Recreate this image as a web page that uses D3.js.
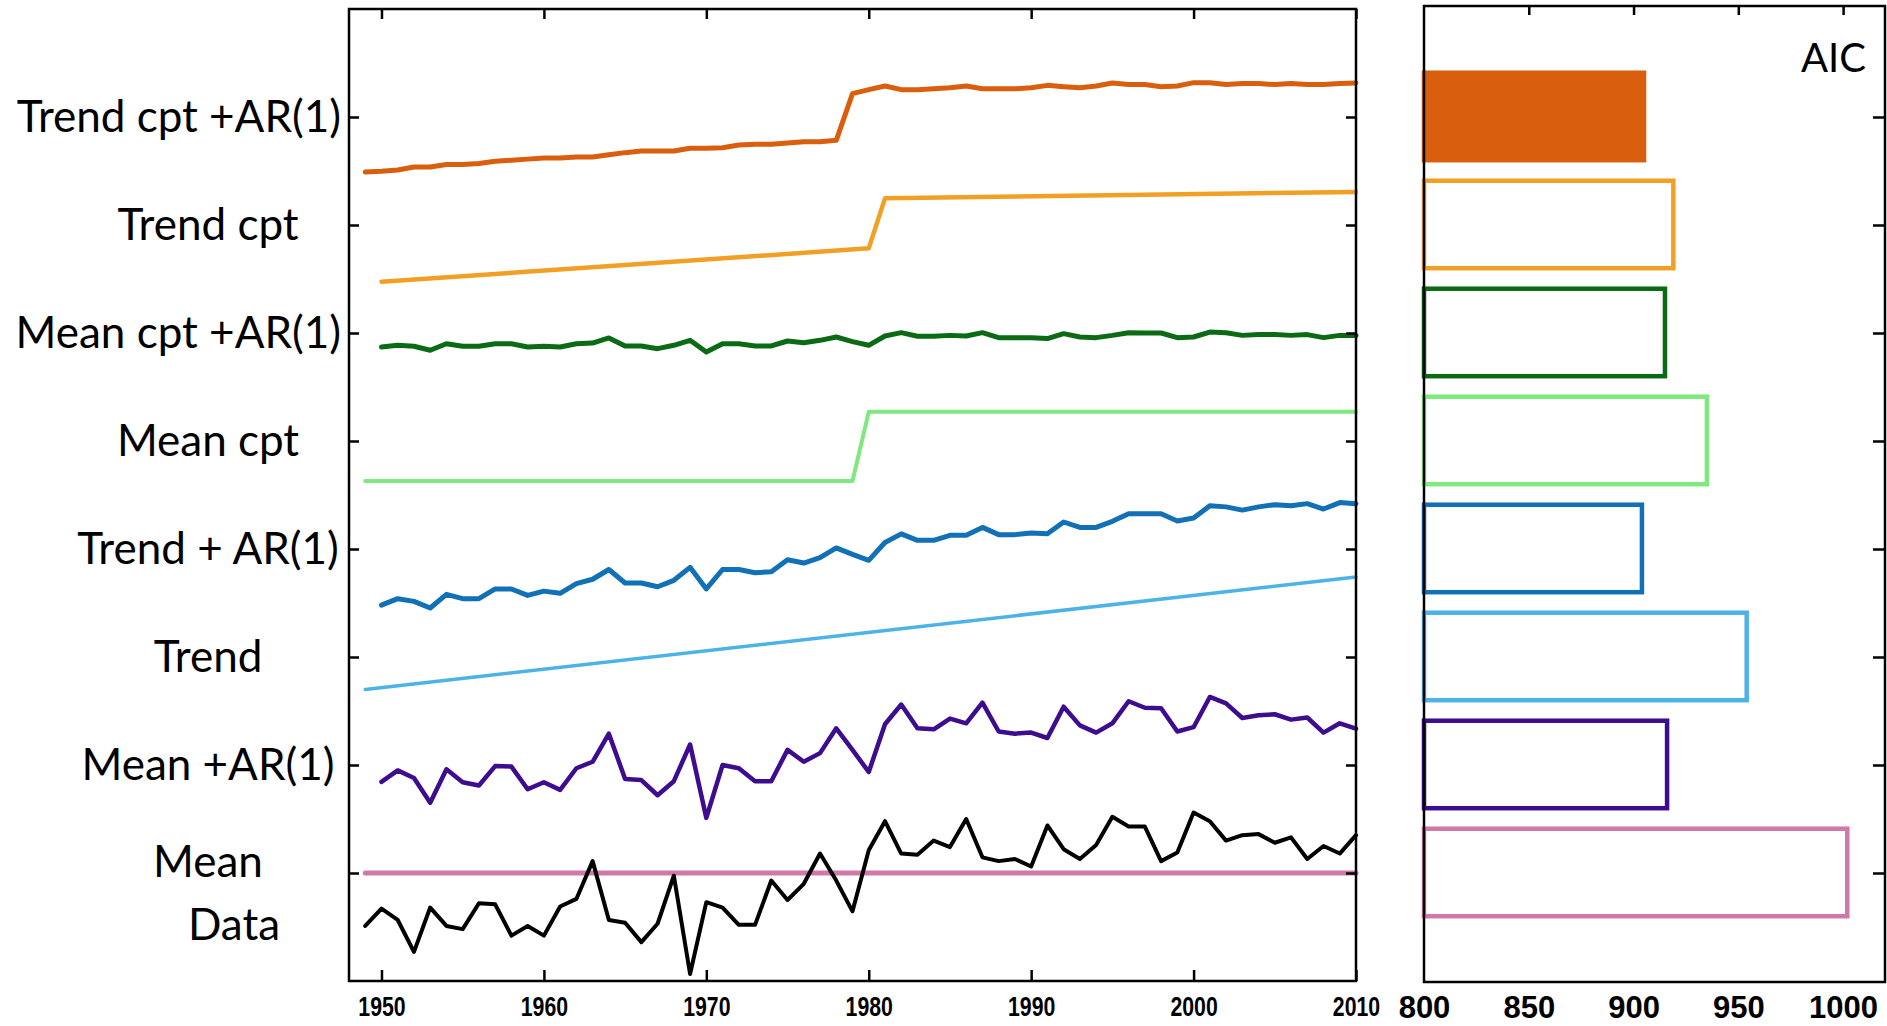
<!DOCTYPE html>
<html>
<head>
<meta charset="utf-8">
<script src="https://cdn.jsdelivr.net/npm/d3@7"></script>
<style>
  body { margin: 0; background: #fff; }
  svg { display: block; }
</style>
</head>
<body>
<div id="chart"></div>
<script>
// #region Data

// model names, top to bottom, with their AIC score and colour
const models = ["Trend cpt +AR(1)", "Trend cpt", "Mean cpt +AR(1)", "Mean cpt",
                "Trend + AR(1)", "Trend", "Mean +AR(1)", "Mean"];
const aic = [905, 919, 915, 935, 904, 954, 916, 1002];
const colors = ["#d95f0e", "#f2a024", "#0b6b14", "#7fe87f",
                "#1170b6", "#4db3e6", "#3d0c8f", "#d078a8"];

const xTicks = [1950, 1960, 1970, 1980, 1990, 2000, 2010];
const aicTicks = [800, 850, 900, 950, 1000];

const dataStart = 1949;
const dataVals = [
  -0.49,                                                              // 1949
  -0.33, -0.435, -0.73, -0.32, -0.49, -0.52, -0.28, -0.29, -0.58, -0.49, // 1950s
  -0.58, -0.31, -0.24, 0.11, -0.435, -0.46, -0.64, -0.47, -0.025, -0.935, // 1960s
  -0.27, -0.32, -0.48, -0.48, -0.07, -0.25, -0.10, 0.18, -0.07, -0.355,   // 1970s
  0.21, 0.48, 0.18, 0.17, 0.30, 0.24, 0.50, 0.145, 0.11, 0.13,            // 1980s
  0.06, 0.44, 0.22, 0.13, 0.26, 0.52, 0.43, 0.43, 0.11, 0.19,             // 1990s
  0.56, 0.48, 0.30, 0.35, 0.36, 0.28, 0.33, 0.13, 0.25, 0.18,             // 2000s
  0.35                                                                    // 2010
];

// Trend cpt +AR(1), 1949-2010
const trendCptArStart = 1949;
const trendCptAr = [
  -0.51,
  -0.503, -0.49, -0.463, -0.463, -0.44, -0.44, -0.43, -0.41, -0.40, -0.39,
  -0.38, -0.38, -0.37, -0.37, -0.35, -0.33, -0.315, -0.315, -0.315, -0.29,
  -0.29, -0.284, -0.26, -0.253, -0.253, -0.24, -0.23, -0.23, -0.216, 0.216,
  0.253, 0.287, 0.253, 0.253, 0.262, 0.27, 0.287, 0.262, 0.262, 0.262,
  0.27, 0.293, 0.28, 0.27, 0.287, 0.315, 0.30, 0.30, 0.28, 0.287,
  0.318, 0.318, 0.30, 0.31, 0.31, 0.30, 0.31, 0.30, 0.30, 0.31,
  0.315
];

// Trend cpt: two straight pieces
const trendCpt = [[1950, -0.525], [1980, -0.216], [1981, 0.247], [2010, 0.306]];

// Mean cpt +AR(1), 1950-2010
const meanCptArStart = 1950;
const meanCptAr = [
  -0.13, -0.114, -0.123, -0.16, -0.10, -0.123, -0.123, -0.10, -0.10, -0.13,
  -0.123, -0.13, -0.10, -0.093, -0.046, -0.12, -0.12, -0.145, -0.114, -0.068,
  -0.176, -0.10, -0.10, -0.12, -0.12, -0.074, -0.09, -0.068, -0.037, -0.08,
  -0.114, -0.028, 0.003, -0.03, -0.03, -0.022, -0.028, 0.003, -0.043, -0.043,
  -0.043, -0.052, -0.006, -0.037, -0.043, -0.022, 0.003, 0.0, 0.0, -0.043,
  -0.037, 0.009, 0.003, -0.022, -0.015, -0.015, -0.022, -0.015, -0.043, -0.022,
  -0.022
];

// Mean cpt: step
const meanCpt = [[1949, -0.37], [1979, -0.37], [1980, 0.27], [2010, 0.27]];

// Trend + AR(1), 1950-2010
const trendArStart = 1950;
const trendAr = [
  -0.52, -0.46, -0.485, -0.546, -0.42, -0.46, -0.46, -0.37, -0.37, -0.43,
  -0.39, -0.41, -0.32, -0.28, -0.19, -0.315, -0.315, -0.35, -0.29, -0.17,
  -0.37, -0.19, -0.19, -0.22, -0.21, -0.10, -0.13, -0.08, 0.01, -0.05,
  -0.105, 0.06, 0.14, 0.08, 0.08, 0.127, 0.127, 0.20, 0.133, 0.133,
  0.148, 0.142, 0.25, 0.20, 0.20, 0.256, 0.327, 0.327, 0.327, 0.26,
  0.287, 0.40, 0.39, 0.36, 0.39, 0.41, 0.40, 0.42, 0.37, 0.43,
  0.42
];

// Trend: one straight line
const trend = [[1949, -0.30], [2010, 0.74]];

// Mean +AR(1), 1950-2010
const meanArStart = 1950;
const meanAr = [
  -0.157, -0.05, -0.12, -0.35, -0.04, -0.16, -0.19, -0.01, -0.015, -0.225,
  -0.16, -0.23, -0.03, 0.03, 0.29, -0.13, -0.14, -0.28, -0.15, 0.19,
  -0.49, 0.0, -0.03, -0.15, -0.15, 0.14, 0.03, 0.11, 0.34, 0.14,
  -0.065, 0.377, 0.56, 0.34, 0.33, 0.43, 0.386, 0.577, 0.31, 0.29,
  0.30, 0.25, 0.54, 0.367, 0.30, 0.386, 0.59, 0.53, 0.525, 0.31,
  0.35, 0.63, 0.57, 0.435, 0.46, 0.47, 0.42, 0.44, 0.30, 0.386,
  0.336
];

// Mean: flat line
const mean = [[1949, 0], [2010, 0]];

//#endregion

// yearly list -> [year, value] pairs
function pairs(start, vals) {
    return vals.map((v, i) => [start + i, v]);
}

const series = [
    pairs(trendCptArStart, trendCptAr),
    trendCpt,
    pairs(meanCptArStart, meanCptAr),
    meanCpt,
    pairs(trendArStart, trendAr),
    trend,
    pairs(meanArStart, meanAr),
    mean
];
const widths = [5, 4.5, 5, 4, 5, 3.5, 4.5, 5];

// Dimensions
const W = 1887, H = 1026;
const left = {x0: 349, x1: 1356, y0: 9, y1: 981};
const right = {x0: 1424, x1: 1885, y0: 6, y1: 982};

const svg = d3.select("#chart")
    .append("svg")
    .attr("width", W)
    .attr("height", H);

// scales
const x = d3.scaleLinear().domain([1948, 2010]).range([left.x0, left.x1]);
const y = d3.scaleLinear().domain([-1, 8]).range([left.y1, left.y0]);
const xa = d3.scaleLinear().domain([800, 1020]).range([right.x0, right.x1]);

const band = i => models.length - 1 - i;   // top model sits on the highest tick
const bandTicks = d3.range(models.length);

// #region Left panel

const line = d3.line()
    .x(d => x(d[0]))
    .y(d => y(d[1]));

const lines = svg.append("g")
    .attr("fill", "none")
    .attr("stroke-linejoin", "round")
    .attr("stroke-linecap", "round");

series.forEach((s, i) => {
    lines.append("path")
        .attr("d", line(s.map(d => [d[0], band(i) + d[1]])))
        .attr("stroke", colors[i])
        .attr("stroke-width", widths[i]);
});

// data on top of the "Mean" band
lines.append("path")
    .attr("d", line(pairs(dataStart, dataVals)))
    .attr("stroke", "#000")
    .attr("stroke-width", 4);

// axes (ticks inward, frame drawn separately)
const tickFont = g => g.selectAll("text")
    .attr("font-family", "'Liberation Sans', Arial, sans-serif")
    .attr("font-weight", "bold")
    .attr("fill", "#000");

svg.append("g")
    .attr("transform", `translate(0,${left.y1})`)
    .call(d3.axisBottom(x).tickValues(xTicks).tickFormat(d3.format("d"))
        .tickSizeInner(-11).tickSizeOuter(0).tickPadding(15))
    .call(g => g.select(".domain").remove())
    .call(g => g.selectAll("line").attr("stroke", "#000").attr("stroke-width", 2.5))
    .call(tickFont)
    .call(g => g.selectAll("text")
        .attr("font-size", 28)
        .attr("transform", "scale(0.76,1)"));

svg.append("g")
    .attr("transform", `translate(0,${left.y0})`)
    .call(d3.axisTop(x).tickValues(xTicks).tickFormat("")
        .tickSizeInner(-10).tickSizeOuter(0))
    .call(g => g.select(".domain").remove())
    .call(g => g.selectAll("line").attr("stroke", "#000").attr("stroke-width", 2.5));

svg.append("g")
    .attr("transform", `translate(${left.x0},0)`)
    .call(d3.axisLeft(y).tickValues(bandTicks).tickFormat("")
        .tickSizeInner(-10).tickSizeOuter(0))
    .call(g => g.select(".domain").remove())
    .call(g => g.selectAll("line").attr("stroke", "#000").attr("stroke-width", 2.5));

svg.append("g")
    .attr("transform", `translate(${left.x1},0)`)
    .call(d3.axisRight(y).tickValues(bandTicks).tickFormat("")
        .tickSizeInner(-10).tickSizeOuter(0))
    .call(g => g.select(".domain").remove())
    .call(g => g.selectAll("line").attr("stroke", "#000").attr("stroke-width", 2.5));

svg.append("rect")
    .attr("x", left.x0).attr("y", left.y0)
    .attr("width", left.x1 - left.x0).attr("height", left.y1 - left.y0)
    .attr("fill", "none")
    .attr("stroke", "#000")
    .attr("stroke-width", 2.5);

// model labels
const labels = svg.append("g")
    .attr("font-family", "Lato, 'Open Sans', sans-serif")
    .attr("font-size", 44)
    .attr("fill", "#000")
    .attr("text-anchor", "middle");

const labelCx = 208;
models.forEach((m, i) => {
    const t = labels.append("text")
        .attr("x", labelCx)
        .attr("y", y(band(i)) + (m === "Mean" ? -11 : 0))
        .attr("dy", "0.35em")
        .text(m);
    // keep long labels clear of the frame
    const w = t.node().getComputedTextLength();
    if (labelCx + w / 2 > left.x0 - 8) t.attr("x", left.x0 - 8 - w / 2);
});
labels.append("text")
    .attr("x", labelCx + 26)
    .attr("y", y(0) + 52)
    .attr("dy", "0.35em")
    .text("Data");

//#endregion

// #region Right panel (AIC)

svg.append("g")
    .selectAll("rect")
    .data(aic)
    .join("rect")
    .attr("x", xa(800))
    .attr("y", (d, i) => y(band(i) + 0.41))
    .attr("width", d => xa(d) - xa(800))
    .attr("height", (d, i) => y(band(i) - 0.40) - y(band(i) + 0.41))
    .attr("fill", (d, i) => i === 0 ? colors[0] : "none")
    .attr("stroke", (d, i) => colors[i])
    .attr("stroke-width", 4.5);

svg.append("g")
    .attr("transform", `translate(0,${right.y1})`)
    .call(d3.axisBottom(xa).tickValues(aicTicks).tickFormat(d3.format("d"))
        .tickSize(0).tickPadding(14))
    .call(g => g.select(".domain").remove())
    .call(tickFont)
    .call(g => g.selectAll("text").attr("font-size", 31));

svg.append("g")
    .attr("transform", `translate(0,${right.y0})`)
    .call(d3.axisTop(xa).tickValues(aicTicks.slice(1)).tickFormat("")
        .tickSizeInner(-9).tickSizeOuter(0))
    .call(g => g.select(".domain").remove())
    .call(g => g.selectAll("line").attr("stroke", "#000").attr("stroke-width", 2.5));

svg.append("g")
    .attr("transform", `translate(${right.x1},0)`)
    .call(d3.axisRight(y).tickValues(bandTicks).tickFormat("")
        .tickSizeInner(-12).tickSizeOuter(0))
    .call(g => g.select(".domain").remove())
    .call(g => g.selectAll("line").attr("stroke", "#000").attr("stroke-width", 2.5));

svg.append("rect")
    .attr("x", right.x0).attr("y", right.y0)
    .attr("width", right.x1 - right.x0).attr("height", right.y1 - right.y0)
    .attr("fill", "none")
    .attr("stroke", "#000")
    .attr("stroke-width", 2.5);

svg.append("text")
    .attr("x", 1866)
    .attr("y", 72)
    .attr("text-anchor", "end")
    .attr("font-family", "Lato, 'Open Sans', sans-serif")
    .attr("font-size", 40)
    .text("AIC");

//#endregion
</script>
</body>
</html>
